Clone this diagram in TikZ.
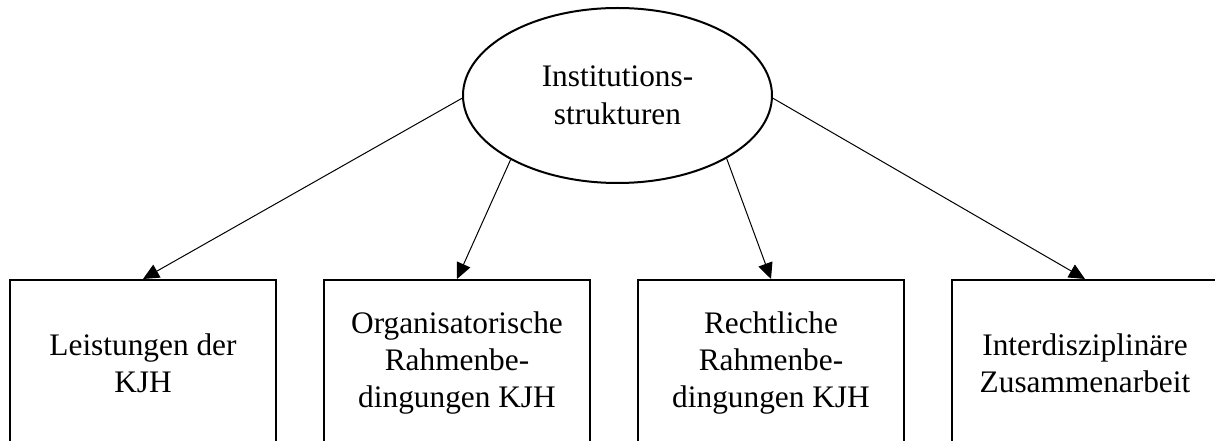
\documentclass[tikz,border=0pt]{standalone}
\usepackage{fontspec}
\setmainfont{Liberation Serif}
\usetikzlibrary{arrows.meta,shapes.geometric}
\begin{document}
\begin{tikzpicture}[x=0.75pt,y=-0.75pt,
  hub/.style={ellipse, draw, line width=1.5pt, fill=white, inner sep=0pt,
    minimum width=231.75pt, minimum height=131.25pt, align=center,
    font=\fontsize{23.5}{28.5}\selectfont},
  leaf/.style={rectangle, draw, line width=1.6pt, fill=white, inner sep=0pt,
    minimum width=199.5pt, minimum height=124.5pt, align=center, anchor=north,
    font=\fontsize{23.5}{27.75}\selectfont},
  link/.style={line width=0.75pt, -{Triangle[length=12pt, width=11pt]}}]
  % page area; the boxes run past the lower edge
  \clip (0,0) rectangle (1215,441);
  \fill[white] (0,0) rectangle (1215,441);

  \node[hub] (ell) at (617.5,95.5) {Institutions-\\strukturen};

  \node[leaf] (b1) at (143,279)  {Leistungen der\\KJH};
  \node[leaf] (b2) at (457,279)  {Organisatorische\\Rahmenbe-\\dingungen KJH};
  \node[leaf] (b3) at (771,279)  {Rechtliche\\Rahmenbe-\\dingungen KJH};
  \node[leaf] (b4) at (1085,279) {Interdisziplinäre\\Zusammenarbeit};

  \draw[link] (ell.181) -- (b1.north);
  \draw[link] (ell.211) -- (b2.north);
  \draw[link] (ell.-30) -- (b3.north);
  \draw[link] (ell.-1)  -- (b4.north);
\end{tikzpicture}
\end{document}
